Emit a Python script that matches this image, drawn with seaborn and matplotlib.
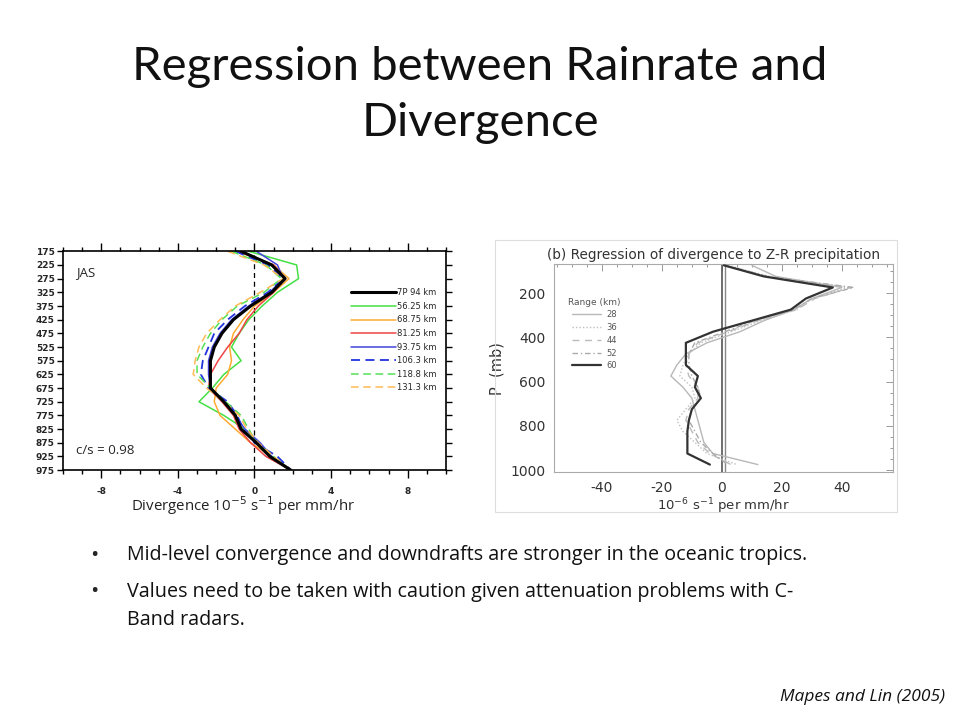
import numpy as np
import pandas as pd
import matplotlib
matplotlib.use("Agg")
import matplotlib.pyplot as plt
import seaborn as sns
from matplotlib.ticker import MultipleLocator

sns.set_style("white")
plt.rcParams['font.family'] = ['Lato', 'DejaVu Sans']

# ---------------- data: left panel (JAS) ----------------
levels_left = [175, 225, 275, 325, 375, 425, 475, 525, 575, 625, 675, 725, 775, 825, 875, 925, 975]
series_left_names = ["7P 94 km", "56.25 km", "68.75 km", "81.25 km", "93.75 km", "106.3 km", "118.8 km", "131.3 km"]
div_7p = [-0.7, 0.9, 1.6, 0.9, -0.2, -1.1, -1.7, -2.1, -2.3, -2.3, -2.3, -1.6, -1.0, -0.7, 0.1, 0.8, 1.9]
div_56 = [-0.3, 2.2, 2.3, 1.2, 0.4, -0.3, -0.8, -1.2, -0.7, -1.6, -2.2, -2.9, -1.6, -0.5, 0.2, 0.9, 1.9]
div_68 = [-0.8, 1.0, 1.8, 1.0, 0.0, -0.6, -1.1, -1.3, -1.2, -1.4, -2.0, -2.1, -1.8, -1.0, -0.2, 0.9, 1.9]
div_81 = [-0.9, 1.0, 1.6, 1.0, 0.2, -0.4, -0.8, -1.4, -1.9, -2.3, -2.4, -1.7, -1.1, -0.8, -0.2, 0.6, 1.9]
div_93 = [0.1, 1.2, 1.5, 0.8, -0.3, -1.2, -1.8, -2.2, -2.4, -2.4, -2.3, -1.6, -1.0, -0.5, 0.3, 0.9, 1.9]
div_106 = [-1.0, 0.7, 1.5, 0.7, -0.5, -1.4, -2.1, -2.4, -2.7, -2.8, -2.4, -1.4, -0.9, -0.6, 0.0, 1.2, 1.9]
div_118 = [-1.2, 0.6, 1.4, 0.5, -0.9, -1.7, -2.3, -2.7, -3.0, -3.0, -2.3, -1.5, -0.7, -0.3, 0.1, 1.0, 1.9]
div_131 = [-1.4, 0.5, 1.5, 0.3, -1.0, -1.8, -2.5, -2.9, -3.1, -3.2, -2.5, -1.6, -0.8, -0.4, 0.2, 1.0, 1.9]
left_x_ticks = [-8, -4, 0, 4, 8]

# ---------------- data: right panel (b) ----------------
levels_right = [75, 125, 175, 225, 275, 325, 375, 425, 475, 525, 575, 625, 675, 725, 775, 825, 875, 925, 975]
range_names = ["28", "36", "44", "52", "60"]
reg_28 = [10, 18, 40, 30, 24, 14, 6, -5, -12, -15, -17, -13, -10, -9, -8, -7, -6, -3, 12]
reg_36 = [2, 16, 42, 30, 25, 13, 3, -7, -11, -13, -14, -10, -9, -12, -15, -13, -9, -5, 5]
reg_44 = [1, 15, 43, 31, 25, 12, 2, -8, -11, -12, -11, -8, -8, -11, -12, -10, -8, -4, 3]
reg_52 = [1, 15, 44, 30, 24, 11, 1, -9, -11, -11, -10, -8, -7, -10, -11, -9, -7, -3, 2]
reg_60 = [0.7, 14, 37, 28, 23, 10, -3, -12, -12, -12, -8, -9, -7, -10, -11, -11.5, -11.5, -11.5, -4]
right_x_ticks = [-40, -20, 0, 20, 40]
right_y_ticks = [200, 400, 600, 800, 1000]

fig = plt.figure(figsize=(9.6, 7.2), dpi=100)
fig.patch.set_facecolor("white")

# Title
fig.text(0.5, 0.907, "Regression between Rainrate and", ha="center", va="center", fontsize=34, color="#111111")
fig.text(0.5, 0.829, "Divergence", ha="center", va="center", fontsize=34, color="#111111")

# ---------------- left panel ----------------
axL = fig.add_axes([0.0656, 0.347, 0.399, 0.304])
left_series = [div_7p, div_56, div_68, div_81, div_93, div_106, div_118, div_131]
colors_left = ["#000000", "#44e044", "#ffaa33", "#ee4444", "#4444dd", "#2233dd", "#55e055", "#ffbb55"]
styles_left = ["-", "-", "-", "-", "-", (0, (5, 3)), (0, (5, 3)), (0, (5, 3))]
widths_left = [2.2, 1.1, 1.1, 1.1, 1.1, 1.3, 1.1, 1.1]
for name, vals, c, ls, lw in zip(series_left_names, left_series, colors_left, styles_left, widths_left):
    df = pd.DataFrame({"div": vals, "p": levels_left})
    sns.lineplot(data=df, x="div", y="p", orient="y", sort=False, ax=axL,
                 color=c, linestyle=ls, linewidth=lw, label=name, zorder=3 if name.startswith("7P") else 2)
axL.axvline(0, color="black", linestyle=(0, (4, 3)), linewidth=0.9, zorder=1)
axL.set_xlim(-10, 10)
axL.set_ylim(975, 175)
axL.set_xticks(left_x_ticks)
axL.xaxis.set_minor_locator(MultipleLocator(1))
axL.set_yticks(levels_left)
axL.set_yticklabels([str(v) for v in levels_left], fontsize=6.5, fontweight="bold", family="DejaVu Sans")
axL.set_xticklabels([str(v) for v in left_x_ticks], fontsize=6.5, fontweight="bold", family="DejaVu Sans")
axL.tick_params(axis="both", which="both", direction="out", top=True, right=True, bottom=True, left=True,
                color="black", width=1.0)
axL.tick_params(axis="x", which="major", length=6, pad=6)
axL.tick_params(axis="x", which="minor", length=3)
axL.tick_params(axis="y", which="major", length=4, pad=2)
for s in axL.spines.values():
    s.set_color("black")
    s.set_linewidth(1.2)
axL.set_xlabel("")
axL.set_ylabel("")
axL.text(0.035, 0.905, "JAS", transform=axL.transAxes, fontsize=9.5, va="center", ha="left", family="Open Sans")
axL.text(0.035, 0.09, "c/s = 0.98", transform=axL.transAxes, fontsize=9.5, va="center", ha="left", family="Open Sans")
leg = axL.legend(loc="upper left", bbox_to_anchor=(0.74, 0.85), frameon=False, fontsize=6,
                 handlelength=5.5, handletextpad=0.1, labelspacing=0.55, borderpad=0)
for t in leg.get_texts():
    t.set_family("DejaVu Sans")
fig.text(0.1365, 0.298, "Divergence 10$^{-5}$ s$^{-1}$ per mm/hr", fontsize=10.8, ha="left", va="center",
         family="Open Sans", color="#222222")

# ---------------- right panel ----------------
fig.patches.append(plt.Rectangle((495 / 960, 1 - 512 / 720), 402 / 960, 272 / 720, transform=fig.transFigure,
                                 fill=False, edgecolor="#dddddd", linewidth=0.8))
axR = fig.add_axes([0.577, 0.344, 0.353, 0.289])
right_series = [reg_28, reg_36, reg_44, reg_52, reg_60]
colors_right = ["#b8b8b8", "#c0c0c0", "#bbbbbb", "#aaaaaa", "#333333"]
styles_right = ["-", (0, (1, 1.5)), (0, (5, 4)), (0, (4, 2, 1, 2)), "-"]
widths_right = [1.0, 1.0, 1.0, 1.0, 1.6]
axR.axvline(0, color="#555555", linewidth=1.2, zorder=1)
axR.axvline(1.2, color="#888888", linewidth=1.0, zorder=1)
for name, vals, c, ls, lw in zip(range_names, right_series, colors_right, styles_right, widths_right):
    df = pd.DataFrame({"reg": vals, "p": levels_right})
    sns.lineplot(data=df, x="reg", y="p", orient="y", sort=False, ax=axR,
                 color=c, linestyle=ls, linewidth=lw, label=name, zorder=3 if name == "60" else 2)
axR.set_xlim(-56, 57)
axR.set_ylim(1010, 70)
axR.set_xticks(right_x_ticks)
axR.set_xticklabels([str(v) for v in right_x_ticks], fontsize=10, family="DejaVu Sans", color="#333333")
axR.xaxis.set_minor_locator(MultipleLocator(5))
axR.set_yticks(right_y_ticks)
axR.set_yticklabels([str(v) for v in right_y_ticks], fontsize=10, family="DejaVu Sans", color="#333333")
axR.yaxis.set_minor_locator(MultipleLocator(50))
axR.tick_params(axis="both", which="both", direction="in", top=True, right=True, color="#999999", width=0.7)
axR.tick_params(axis="both", which="major", length=5, pad=6)
axR.tick_params(axis="both", which="minor", length=2.5)
for s in axR.spines.values():
    s.set_color("#aaaaaa")
    s.set_linewidth(0.8)
axR.set_xlabel("10$^{-6}$ s$^{-1}$ per mm/hr", fontsize=9.5, family="DejaVu Sans", color="#333333", labelpad=1)
axR.set_ylabel("P  (mb)", fontsize=10.5, family="DejaVu Sans", color="#333333", labelpad=4)
axR.set_title("(b) Regression of divergence to Z-R precipitation", fontsize=9.8, family="DejaVu Sans",
              color="#333333", pad=4, x=0.47)
legR = axR.legend(loc="upper left", bbox_to_anchor=(0.03, 0.86), frameon=False, fontsize=6,
                  handlelength=3.5, handletextpad=0.6, labelspacing=0.45, borderpad=0,
                  title="Range (km)", title_fontsize=6.5)
for t in legR.get_texts():
    t.set_color("#555555")
    t.set_family("DejaVu Sans")
legR.get_title().set_color("#555555")
legR.get_title().set_family("DejaVu Sans")

# ---------------- bullets ----------------
bullets = [
    (1 - 555 / 720, "Mid-level convergence and downdrafts are stronger in the oceanic tropics."),
    (1 - 592 / 720, "Values need to be taken with caution given attenuation problems with C-"),
]
for y, txt in bullets:
    fig.text(0.094, y, "\u2022", fontsize=16, va="center", ha="left", family="Open Sans")
    fig.text(0.132, y, txt, fontsize=14.2, va="center", ha="left", family="Open Sans", color="#111111")
fig.text(0.132, 1 - 620 / 720, "Band radars.", fontsize=14.2, va="center", ha="left", family="Open Sans", color="#111111")
fig.text(0.985, 1 - 697 / 720, "Mapes and Lin (2005)", fontsize=12.5, style="italic", va="center", ha="right",
         family="Open Sans", color="#111111")

fig.savefig("out.png", dpi=100, facecolor="white")
